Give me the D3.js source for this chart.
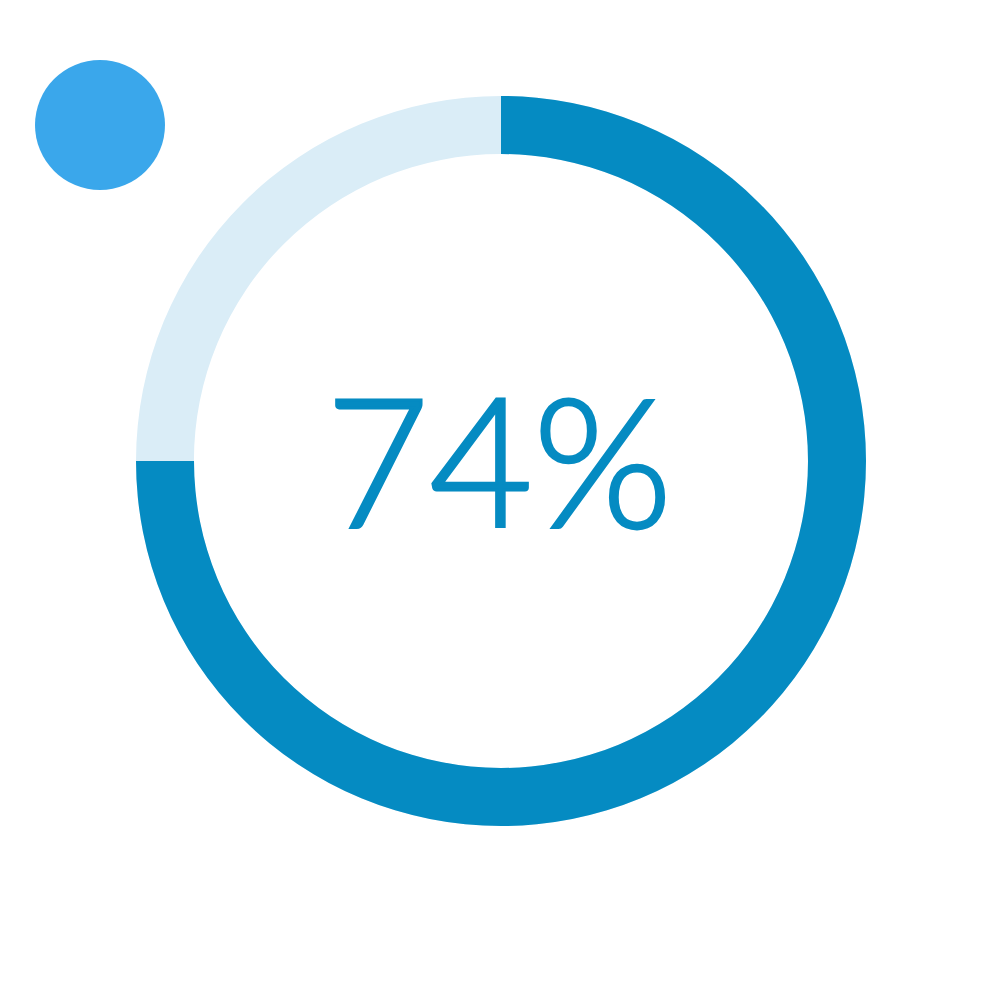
<!DOCTYPE html>
<html>
<head>
<meta charset="utf-8">
<script src="https://d3js.org/d3.v7.min.js"></script>
<style>
  html, body { margin: 0; padding: 0; background: #fff; }
  svg { display: block; }
</style>
</head>
<body>
<svg width="1000" height="1000"></svg>
<script>
var svg = d3.select('svg');

// values
var labelValue = 74;      // printed percentage
var arcShare = [0.75];    // share of the ring that is filled
var trackShare = [1];

var colors = {fill: '#058bc2', track: '#daedf7', dot: '#3aa7eb', text: '#058bc2'};

var cx = 501, cy = 461;
var outerR = 365, innerR = 307;

var angle = d3.scaleLinear().domain([0, 1]).range([0, 2 * Math.PI]);

var arc = d3.arc()
    .innerRadius(innerR)
    .outerRadius(outerR)
    .startAngle(0)
    .endAngle(function(d) { return angle(d); });

var ringG = svg.append('g')
    .attr('transform', 'translate(' + [cx, cy] + ')');

ringG.selectAll('.track')
    .data(trackShare)
    .enter()
    .append('path')
    .attr('class', 'track')
    .attr('d', arc)
    .attr('fill', colors.track);

ringG.selectAll('.progress')
    .data(arcShare)
    .enter()
    .append('path')
    .attr('class', 'progress')
    .attr('d', arc)
    .attr('fill', colors.fill);

// light face, thickened a little with a stroke of the same colour
ringG.append('text')
    .attr('x', -2)
    .attr('y', 66)
    .attr('text-anchor', 'middle')
    .style('font-family', 'Lato, "Open Sans", sans-serif')
    .style('font-weight', 300)
    .style('font-size', '179px')
    .attr('fill', colors.text)
    .attr('stroke', colors.text)
    .attr('stroke-width', 3)
    .attr('stroke-linejoin', 'miter')
    .text(labelValue + '%');

// decorative dot, top left
svg.append('circle')
    .attr('cx', 100)
    .attr('cy', 125)
    .attr('r', 65)
    .attr('fill', colors.dot);
</script>
</body>
</html>
